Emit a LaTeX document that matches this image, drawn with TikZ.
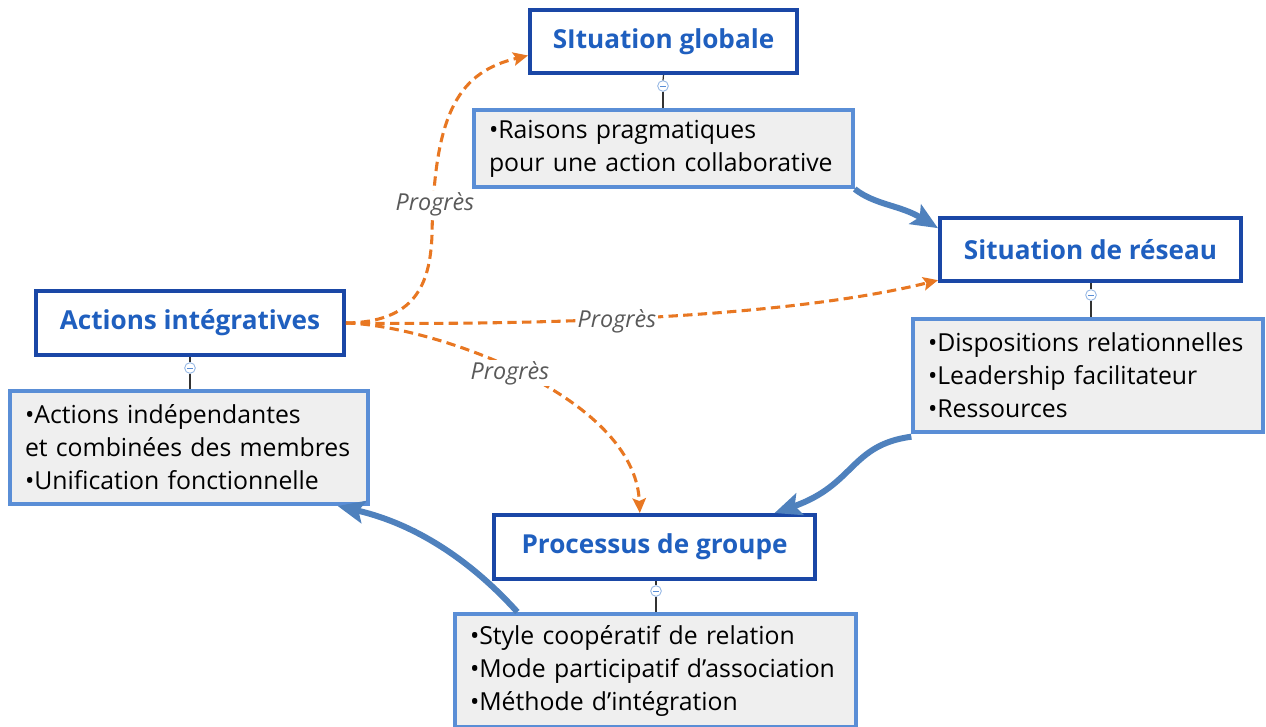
\documentclass[tikz,border=0pt]{standalone}
\usepackage{fontspec}
\setmainfont{Open Sans}
\usetikzlibrary{arrows.meta}
\definecolor{tborder}{HTML}{1A47A6}
\definecolor{ttext}{HTML}{1F5FBF}
\definecolor{dborder}{HTML}{5A8ED6}
\definecolor{dfill}{HTML}{EFEFEF}
\definecolor{oarrow}{HTML}{E87722}
\definecolor{barrow}{HTML}{4F81BD}
\definecolor{lbl}{HTML}{595959}
\tikzset{
  titlebox/.style={draw=tborder, line width=3pt, fill=white, text=ttext,
    font=\fontsize{19.6}{22}\selectfont\bfseries, inner sep=0pt},
  detailbox/.style={draw=dborder, line width=3pt, fill=dfill, text=black,
    font=\fontsize{18.6}{24.75}\selectfont, align=left, inner xsep=11pt, inner ysep=0pt},
  knob/.style={circle, draw=dborder!70, fill=white, line width=0.6pt, minimum size=8pt, inner sep=0pt,
    path picture={\draw[dborder, line width=0.6pt] ([xshift=-2pt]path picture bounding box.center) -- ([xshift=2pt]path picture bounding box.center);}},
  stem/.style={draw=black!80, line width=0.9pt},
  prog/.style={draw=oarrow, line width=2.3pt, dashed, dash pattern=on 7pt off 4pt,
    -{Stealth[length=11pt, width=10pt, inset=2pt]}},
  flow/.style={draw=barrow, line width=4.5pt, -{Stealth[length=20pt, width=17pt, inset=4pt]}},
  plabel/.style={text=lbl, font=\fontsize{17.5}{20}\selectfont\itshape, fill=white, inner sep=1pt}
}
\begin{document}
\begin{tikzpicture}[x=0.75pt, y=-0.75pt]
\useasboundingbox (0,0) rectangle (1266,726);

% title boxes
\node[titlebox, minimum width={267*0.75pt}, minimum height={63*0.75pt}] (sg) at (663.5,41.5) {SItuation globale};
\node[titlebox, minimum width={301*0.75pt}, minimum height={63*0.75pt}] (sr) at (1090.5,249.5) {Situation de réseau};
\node[titlebox, minimum width={308*0.75pt}, minimum height={64*0.75pt}] (ai) at (190,323) {Actions intégratives};
\node[titlebox, minimum width={321*0.75pt}, minimum height={64*0.75pt}] (pg) at (654.5,547) {Processus de groupe};

% detail boxes
\node[detailbox, text width={(379-30)*0.75pt}, minimum height={77*0.75pt}] (sgd) at (663.5,148.5)
  {•Raisons pragmatiques\\pour une action collaborative};
\node[detailbox, text width={(350-30)*0.75pt}, minimum height={113*0.75pt}] (srd) at (1088,375.5)
  {•Dispositions relationnelles\\•Leadership facilitateur\\•Ressources};
\node[detailbox, text width={(358-30)*0.75pt}, minimum height={113*0.75pt}] (aid) at (189,447.5)
  {•Actions indépendantes\\et combinées des membres\\•Unification fonctionnelle};
\node[detailbox, text width={(401-30)*0.75pt}, minimum height={113*0.75pt}] (pgd) at (655.5,670.5)
  {•Style coopératif de relation\\•Mode participatif d’association\\•Méthode d’intégration};

% knobs and stems
\node[knob] (k1) at (663,86) {};
\node[knob] (k2) at (1091,295) {};
\node[knob] (k3) at (190,368) {};
\node[knob] (k4) at (656,591) {};
\draw[stem] (sg.south) -- (k1.north); \draw[stem] (k1.south) -- (k1.south |- sgd.north);
\draw[stem] (sr.south -| k2) -- (k2.north); \draw[stem] (k2.south) -- (k2.south |- srd.north);
\draw[stem] (ai.south) -- (k3.north); \draw[stem] (k3.south) -- (k3.south |- aid.north);
\draw[stem] (pg.south -| k4) -- (k4.north); \draw[stem] (k4.south) -- (k4.south |- pgd.north);

% orange progress arrows
\draw[prog] (ai.east) .. controls (415,322) and (430,285) .. (432,235)
  .. controls (434,110) and (460,72) .. ([yshift=-10.5pt]sg.west);
\node[plabel] (l1) at (435,204) {Progrès};
\draw[prog] (ai.east) .. controls (600,326) and (810,312) .. ([yshift=-23pt]sr.west);
\node[plabel] (l2) at (617,321) {Progrès};
\draw[prog] (ai.east) .. controls (430,325) and (635,395) .. ([xshift=-11pt]pg.north);
\node[plabel] (l3) at (510,373) {Progrès};

% blue flow arrows
\draw[flow] (sgd.south east) .. controls (875,205) and (900,205) .. ([yshift=16pt]sr.west);
\draw[flow] ([yshift=-2pt]srd.south west) .. controls (850,445) and (855,485) .. ([xshift=90pt]pg.north);
\draw[flow] ([xshift=48pt]pgd.north west) .. controls (475,565) and (420,525) .. ([xshift=-24pt]aid.south east);
\end{tikzpicture}
\end{document}
